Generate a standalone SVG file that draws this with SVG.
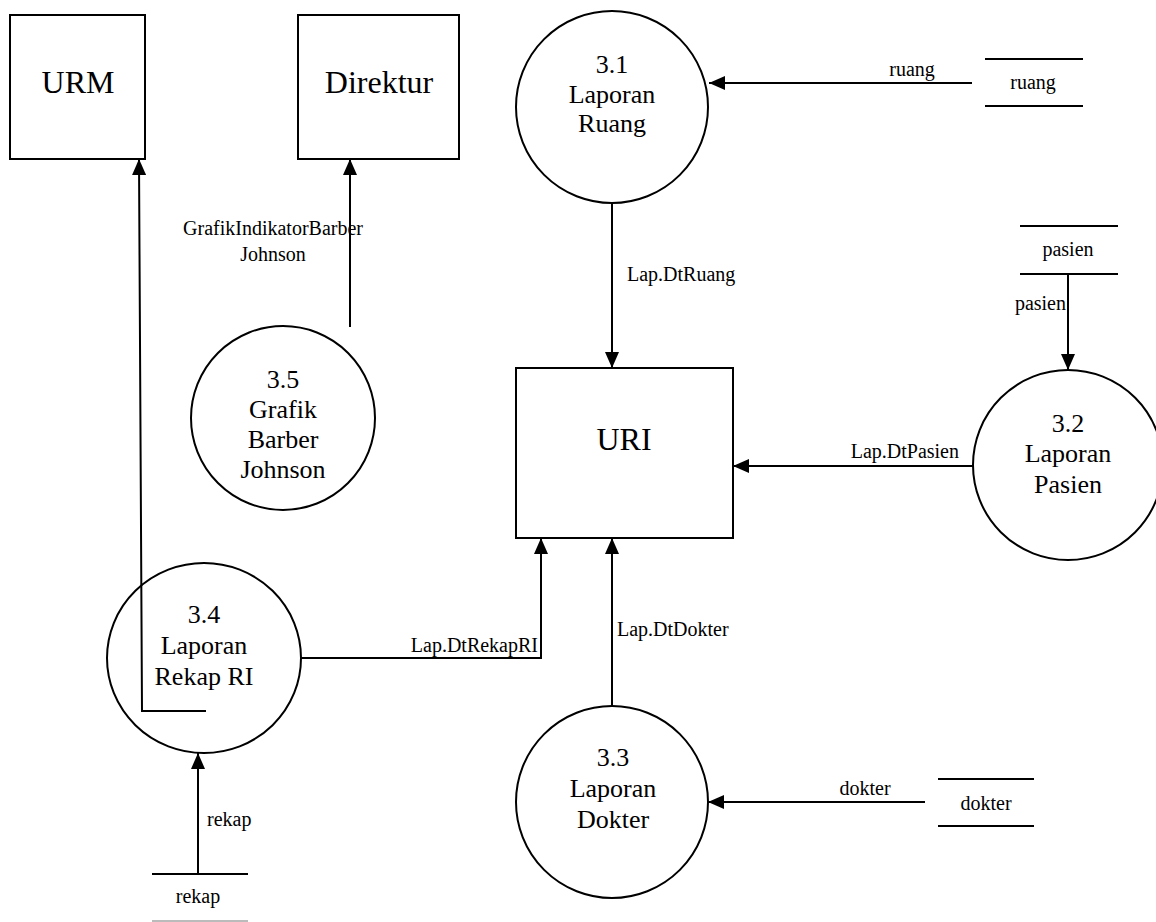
<svg xmlns="http://www.w3.org/2000/svg" width="1156" height="922" viewBox="0 0 1156 922" font-family="Liberation Serif, Times New Roman, Times, serif">
  <style>
    .shape { fill: #fff; stroke: #000; stroke-width: 2; }
    .store { stroke: #000; stroke-width: 2; fill: none; }
    .flow { stroke: #000; stroke-width: 2; fill: none; }
    .big { font-size: 32px; text-anchor: middle; }
    .proc { font-size: 26px; text-anchor: middle; }
    .lbl { font-size: 20px; }
    .mid { text-anchor: middle; }
    .end { text-anchor: end; }
  </style>
  <defs>
    <marker id="arrow" markerUnits="userSpaceOnUse" markerWidth="16" markerHeight="14" refX="16" refY="7" orient="auto">
      <path d="M0,0 L16,7 L0,14 z" fill="#000"/>
    </marker>
  </defs>
  <rect width="1156" height="922" fill="#fff"/>

  <!-- External entities -->
  <g id="urm">
    <rect class="shape" x="10" y="15" width="135" height="144"/>
    <text class="big" x="78" y="93">URM</text>
  </g>
  <g id="direktur">
    <rect class="shape" x="298" y="15" width="161" height="144"/>
    <text class="big" x="379" y="93">Direktur</text>
  </g>
  <g id="uri">
    <rect class="shape" x="516" y="368" width="217" height="170"/>
    <text class="big" x="624" y="450">URI</text>
  </g>

  <!-- Processes -->
  <g id="p31">
    <circle class="shape" cx="612" cy="107" r="96"/>
    <text class="proc" x="612" y="73">3.1</text>
    <text class="proc" x="612" y="103">Laporan</text>
    <text class="proc" x="612" y="132">Ruang</text>
  </g>
  <g id="p32">
    <circle class="shape" cx="1068" cy="465" r="95"/>
    <text class="proc" x="1068" y="432">3.2</text>
    <text class="proc" x="1068" y="462">Laporan</text>
    <text class="proc" x="1068" y="493">Pasien</text>
  </g>
  <g id="p33">
    <circle class="shape" cx="612" cy="802" r="96"/>
    <text class="proc" x="613" y="766">3.3</text>
    <text class="proc" x="613" y="797">Laporan</text>
    <text class="proc" x="613" y="828">Dokter</text>
  </g>
  <g id="p34">
    <ellipse class="shape" cx="204" cy="658" rx="97" ry="95"/>
    <text class="proc" x="204" y="623">3.4</text>
    <text class="proc" x="204" y="654">Laporan</text>
    <text class="proc" x="204" y="685">Rekap RI</text>
  </g>
  <g id="p35">
    <circle class="shape" cx="283" cy="418" r="92"/>
    <text class="proc" x="283" y="388">3.5</text>
    <text class="proc" x="283" y="418">Grafik</text>
    <text class="proc" x="283" y="448">Barber</text>
    <text class="proc" x="283" y="478">Johnson</text>
  </g>

  <!-- Data stores -->
  <g id="store-ruang">
    <line class="store" x1="985" y1="59" x2="1083" y2="59"/>
    <line class="store" x1="985" y1="106" x2="1083" y2="106"/>
    <text class="lbl mid" x="1033" y="89">ruang</text>
  </g>
  <g id="store-pasien">
    <line class="store" x1="1020" y1="226" x2="1118" y2="226"/>
    <line class="store" x1="1020" y1="274" x2="1118" y2="274"/>
    <text class="lbl mid" x="1068" y="256">pasien</text>
  </g>
  <g id="store-dokter">
    <line class="store" x1="938" y1="779" x2="1034" y2="779"/>
    <line class="store" x1="938" y1="826" x2="1034" y2="826"/>
    <text class="lbl mid" x="986" y="810">dokter</text>
  </g>
  <g id="store-rekap">
    <line class="store" x1="152" y1="874" x2="248" y2="874"/>
    <line x1="152" y1="921" x2="248" y2="921" stroke="#bbb" stroke-width="2"/>
    <text class="lbl mid" x="198" y="903">rekap</text>
  </g>

  <!-- Data flows -->
  <g id="connectors">
    <line class="flow" x1="972" y1="83" x2="709" y2="83" marker-end="url(#arrow)"/>
    <text class="lbl mid" x="912" y="76">ruang</text>

    <line class="flow" x1="612" y1="203" x2="612" y2="368" marker-end="url(#arrow)"/>
    <text class="lbl" x="627" y="281">Lap.DtRuang</text>

    <line class="flow" x1="1068" y1="274" x2="1068" y2="370" marker-end="url(#arrow)"/>
    <text class="lbl end" x="1066" y="310">pasien</text>

    <line class="flow" x1="973" y1="466" x2="733" y2="466" marker-end="url(#arrow)"/>
    <text class="lbl end" x="959" y="458">Lap.DtPasien</text>

    <line class="flow" x1="612" y1="706" x2="612" y2="538" marker-end="url(#arrow)"/>
    <text class="lbl" x="617" y="636">Lap.DtDokter</text>

    <line class="flow" x1="925" y1="802" x2="708" y2="802" marker-end="url(#arrow)"/>
    <text class="lbl mid" x="865" y="795">dokter</text>

    <polyline class="flow" points="301,658 541,658 541,538" marker-end="url(#arrow)"/>
    <text class="lbl end" x="538" y="652">Lap.DtRekapRI</text>

    <line class="flow" x1="198" y1="874" x2="198" y2="753" marker-end="url(#arrow)"/>
    <text class="lbl" x="207" y="826">rekap</text>

    <polyline class="flow" points="206,711 142,711 139,159" marker-end="url(#arrow)"/>

    <line class="flow" x1="350" y1="327" x2="350" y2="159" marker-end="url(#arrow)"/>
    <text class="lbl mid" x="273" y="235">GrafikIndikatorBarber</text>
    <text class="lbl mid" x="273" y="261">Johnson</text>
  </g>
</svg>
